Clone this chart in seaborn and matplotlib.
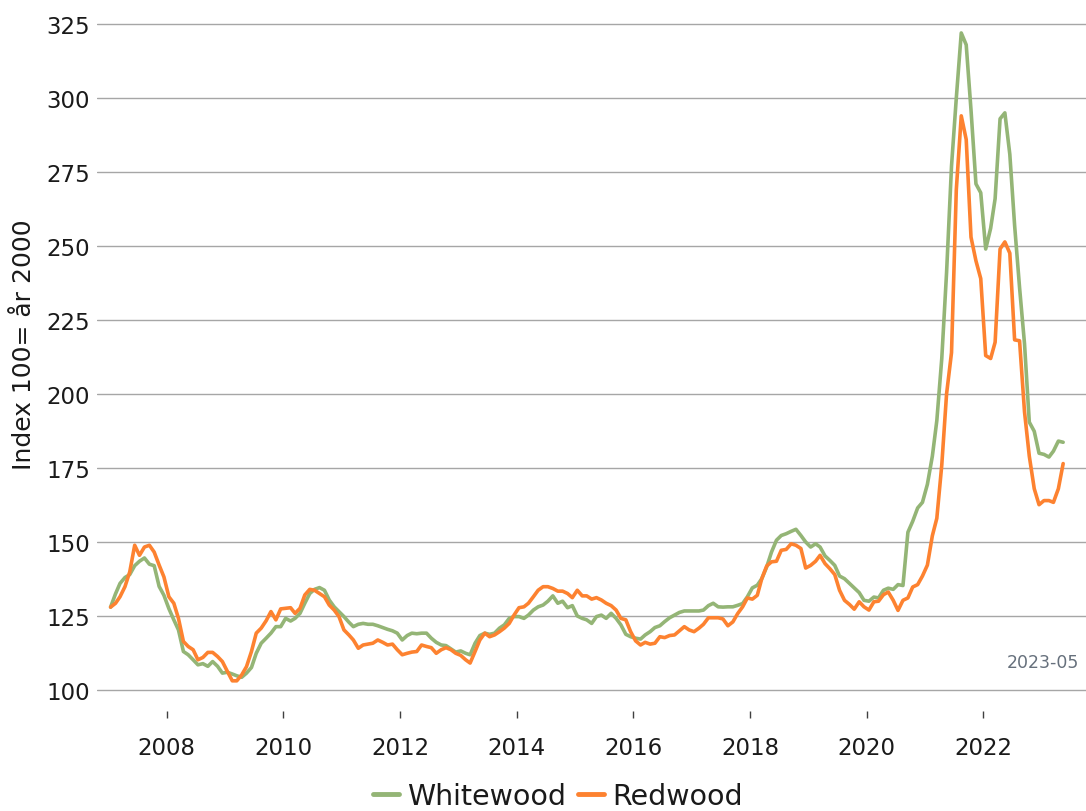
import matplotlib
matplotlib.use("Agg")
import matplotlib.pyplot as plt
import matplotlib.dates as mdates
import seaborn as sns
import pandas as pd

# Monthly index values (100 = year 2000), Jan 2007 - May 2023
whitewood = [
    128, 132.5, 136, 138, 139, 142, 143.5, 144.6, 142.5, 142, 135, 132,
    127.5, 123.7, 120.3, 113, 111.9, 110.2, 108.5, 108.9, 108, 109.6, 108, 105.7,
    106, 105.4, 104.8, 104.3, 105.7, 107.6, 112.4, 115.8, 117.5, 119.2, 121.4, 121.4,
    124.2, 123.3, 124.2, 125.9, 129.3, 132.6, 134, 134.6, 133.7, 130.4, 128.1, 126.5,
    124.8, 122.9, 121.4, 122.2, 122.5, 122.2, 122.2, 121.7, 121.1, 120.5, 120, 119.2,
    116.9, 118.4, 119.2, 119, 119.2, 119.2, 117.5, 116.1, 115.2, 115, 113.9, 112.8,
    113.2, 112.4, 111.9, 115.8, 118.4, 119.2, 118.8, 119.2, 120.9, 122, 124.2, 124.8,
    124.8, 124.2, 125.3, 127, 128.1, 128.7, 130, 131.8, 129.3, 130, 127.8, 128.5,
    125, 124.2, 123.7, 122.5, 124.8, 125.3, 124.2, 125.9, 124.2, 122, 118.8, 118,
    117.5, 117.2, 118.6, 119.7, 121.1, 121.7, 123.1, 124.4, 125.3, 126.2, 126.7, 126.7,
    126.7, 126.7, 127, 128.5, 129.3, 128.1, 128, 128.1, 128.1, 128.6, 129.2, 131.5,
    134.5, 135.4, 137.6, 141.6, 146.6, 150.6, 152.2, 152.8, 153.6, 154.3, 152.2, 150,
    148.3, 149.4, 148.3, 145.3, 143.8, 142.1, 138.5, 137.6, 136, 134.5, 132.9, 130.3,
    130, 131.4, 131.1, 133.7, 134.4, 134, 135.6, 135.3, 153.3, 157, 161.5, 163.4,
    169.5, 179, 191, 212, 241, 277, 300, 322, 318, 296, 271, 268,
    249, 256, 266, 293, 295, 281, 257, 236, 217, 190.5, 187.4, 180,
    179.6, 178.7, 180.7, 184.1, 183.7,
]

redwood = [
    128, 129.3, 131.5, 134.9, 139.9, 148.9, 145.5, 148.3, 148.9, 146.6, 142.2, 138.2,
    131.5, 129.3, 124.2, 116.4, 114.7, 113.6, 110.2, 111, 112.7, 112.7, 111.3, 109.6,
    106.3, 103.1, 103.1, 105.1, 107.9, 113, 119.2, 120.9, 123.4, 126.5, 123.7, 127.4,
    127.6, 127.8, 125.9, 127.6, 132.1, 134, 133.7, 132.6, 131.5, 128.7, 127, 124.8,
    120.3, 118.6, 116.9, 114.1, 115.2, 115.5, 115.8, 116.9, 116.1, 115.2, 115.5, 113.6,
    111.9, 112.4, 112.8, 113, 115.2, 114.7, 114.3, 112.4, 113.6, 114.3, 113.6, 112.4,
    111.7, 110.2, 109.1, 113, 116.9, 119.2, 118, 118.6, 119.7, 120.9, 122.5, 125.3,
    127.8, 128.1, 129.3, 131.5, 133.7, 134.9, 134.9, 134.3, 133.4, 133.4, 132.6, 131.2,
    133.7, 131.8, 131.8, 130.7, 131.2, 130.4, 129.3, 128.5, 127, 124.2, 123.7, 119.7,
    116.6, 115.2, 116.1, 115.5, 115.8, 118, 117.7, 118.4, 118.6, 120, 121.4, 120.3,
    119.7, 120.9, 122.2, 124.4, 124.4, 124.4, 124, 121.7, 123, 125.8, 128.1, 131.1,
    130.7, 132, 137.6, 141.9, 143.3, 143.5, 147.2, 147.5, 149.4, 148.9, 147.8, 141.2,
    142.1, 143.5, 145.5, 142.7, 141, 139, 133.7, 130.3, 128.9, 127.3, 129.8, 128.1,
    127, 129.8, 130, 132.2, 133.1, 130.3, 126.9, 130.3, 131.1, 134.8, 135.6, 138.5,
    142.2, 152.1, 158, 176, 200, 214, 269, 294, 286, 253, 245, 239,
    213, 212, 217.5, 249, 251.4, 247.6, 218.3, 218, 194, 179, 168, 162.6,
    164, 164, 163.4, 168, 176.5,
]

series_names = ["Whitewood", "Redwood"]
colors = ["#94b576", "#fd8230"]

dates = pd.date_range("2007-01-01", periods=len(whitewood), freq="MS") + pd.Timedelta(days=14)

df = pd.DataFrame({"Datum": dates, "Whitewood": whitewood, "Redwood": redwood})
df = df.melt(id_vars="Datum", var_name="Serie", value_name="Index")

sns.set_style("white")
plt.rcParams["font.family"] = ["DejaVu Sans"]

fig = plt.figure(figsize=(10.86, 8.12), dpi=100)
ax = fig.add_axes([97 / 1086, 1 - 712 / 812, 1 - 97 / 1086, (712 - 23) / 812])

sns.lineplot(data=df, x="Datum", y="Index", hue="Serie", hue_order=series_names,
             palette=colors, linewidth=2.6, ax=ax, legend=False)

ax.set_ylim(92.9, 325.7)
ax.set_xlim(pd.Timestamp("2006-10-22"), pd.Timestamp("2023-10-05"))
ax.set_yticks(range(100, 326, 25))
ax.yaxis.grid(True, color="#a6a6a6", linewidth=1.0)
ax.xaxis.grid(False)
for s in ax.spines.values():
    s.set_visible(False)

ax.xaxis.set_major_locator(mdates.YearLocator(2))
ax.xaxis.set_major_formatter(mdates.DateFormatter("%Y"))
ax.tick_params(axis="x", length=5, width=1, color="#404040", pad=13,
               labelsize=16.5, labelcolor="#1a1a1a", bottom=True)
ax.tick_params(axis="y", length=0, pad=5, labelsize=16.5, labelcolor="#1a1a1a")

ax.set_xlabel("")
ax.set_ylabel("Index 100= år 2000", fontsize=18, color="#1a1a1a",
              family=["Liberation Sans Narrow", "DejaVu Sans"])
ax.yaxis.set_label_coords(-0.062, 0.533)

ax.text(0.993, (663 - 712) / -689, "2023-05", transform=ax.transAxes,
        ha="right", va="center", fontsize=12.5, color="#66707c")

handles = [plt.Line2D([], [], color=c, linewidth=3.5) for c in colors]
fig.legend(handles, series_names, loc="center", bbox_to_anchor=(558 / 1086, 1 - 797 / 812),
           ncol=2, frameon=False, fontsize=20.5, handlelength=0.9,
           handletextpad=0.3, columnspacing=0.4, labelcolor="#1a1a1a")

fig.savefig("out.png", dpi=100)
